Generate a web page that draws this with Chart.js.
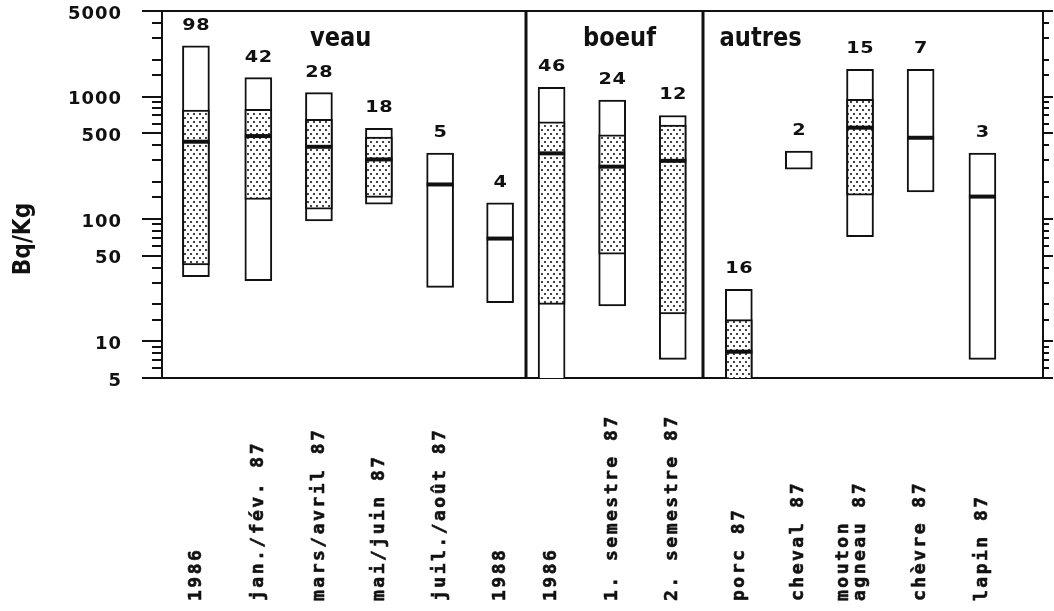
<!DOCTYPE html>
<html>
<head>
<meta charset="utf-8">
<script src="https://cdn.jsdelivr.net/npm/chart.js@4.4.1/dist/chart.umd.min.js"></script>
<style>
  html, body { margin: 0; padding: 0; background: #fff; }
  #wrap { width: 1054px; height: 611px; }
</style>
</head>
<body>
<div id="wrap"><canvas id="chart" width="1054" height="611"></canvas></div>
<script>
/*************************************************
 * DATA (Bq/Kg)
 *************************************************/
const categories = [
  "1986", "jan./fév. 87", "mars/avril 87", "mai/juin 87", "juil./août 87", "1988",
  "1986", "1. semestre 87", "2. semestre 87",
  "porc 87", "cheval 87", ["mouton", "agneau 87"], "chèvre 87", "lapin 87"
];
const counts  = [98, 42, 28, 18, 5, 4, 46, 24, 12, 16, 2, 15, 7, 3];
const xPos    = [0.56, 1.59, 2.59, 3.58, 4.59, 5.58, 6.43, 7.43, 8.43, 9.52, 10.51, 11.52, 12.52, 13.54];
const maxVals = [2600, 1425, 1075, 550, 345, 135, 1190, 935, 700, 26.5, 358, 1670, 1670, 345];
const q3Vals  = [775, 785, 650, 465, null, null, 620, 485, 585, 15, null, 950, null, null];
const medVals = [427, 475, 388, 306, 191, 69, 343, 267, 298, 8.2, null, 556, 460, 152];
const q1Vals  = [42, 144, 120, 150, null, null, 20, 51.5, 16.7, 4, null, 156, null, null];
const minVals = [33.6, 31.2, 96, 132, 27.5, 20.6, 4, 19.4, 7.1, 3, 255, 71.4, 166, 7.1];

const groups = [
  { label: "veau", x: 2.95 },
  { label: "boeuf", x: 7.55 },
  { label: "autres", x: 9.88 }
];
const separators = [6.01, 8.93];
const yLabels = [5, 10, 50, 100, 500, 1000, 5000];

const INK = "#111";

/*************************************************
 * STIPPLE PATTERN
 *************************************************/
function stipple() {
  const c = document.createElement("canvas");
  c.width = 6; c.height = 8;
  const g = c.getContext("2d");
  g.fillStyle = "#fff";
  g.fillRect(0, 0, 6, 8);
  g.fillStyle = "#444";
  g.fillRect(1, 1, 2, 2);
  g.fillRect(4, 5, 2, 2);
  return document.getElementById("chart").getContext("2d").createPattern(c, "repeat");
}

/*************************************************
 * HELPERS
 *************************************************/
function isLabelled(v) {
  return yLabels.some(l => Math.abs(l - v) / l < 1e-6);
}

function drawText(ctx, str, x, y, o) {
  ctx.save();
  ctx.translate(x, y);
  if (o.rot) ctx.rotate(o.rot);
  ctx.scale(o.sx || 1, 1);
  ctx.font = o.font;
  ctx.letterSpacing = (o.ls || 0) + "px";
  ctx.textAlign = o.align || "left";
  ctx.textBaseline = o.base || "alphabetic";
  ctx.fillStyle = INK;
  const dx = o.align === "center" ? (o.ls || 0) / 2 : 0;
  ctx.fillText(str, dx, 0);
  if (o.stroke) {
    ctx.strokeStyle = INK;
    ctx.lineWidth = o.stroke;
    ctx.strokeText(str, dx, 0);
  }
  ctx.restore();
}

/*************************************************
 * OVERLAY – frame, ticks, separators, texts
 *************************************************/
const overlay = {
  id: "overlay",
  beforeDraw(chart) {
    chart.ctx.letterSpacing = "1px";
  },
  afterDraw(chart) {
    const { ctx, chartArea: a, scales: { x, y } } = chart;
    ctx.save();
    ctx.letterSpacing = "0px";
    ctx.strokeStyle = INK;
    ctx.lineWidth = 2;

    // top + right frame
    ctx.beginPath();
    ctx.moveTo(a.left - 20, a.top);
    ctx.lineTo(a.right, a.top);
    ctx.lineTo(a.right, a.bottom);
    ctx.stroke();

    // tick marks both sides
    y.ticks.forEach(t => {
      const py = Math.round(y.getPixelForValue(t.value));
      const big = isLabelled(t.value);
      ctx.beginPath();
      ctx.moveTo(a.left - (big ? 20 : 10), py);
      ctx.lineTo(a.left, py);
      ctx.moveTo(a.right, py);
      ctx.lineTo(a.right + (big ? 10 : 6), py);
      ctx.stroke();
    });

    // group separators
    ctx.lineWidth = 3;
    separators.forEach(v => {
      const px = Math.round(x.getPixelForValue(v));
      ctx.beginPath();
      ctx.moveTo(px, a.top);
      ctx.lineTo(px, a.bottom);
      ctx.stroke();
    });

    // counts above boxes
    counts.forEach((n, i) => {
      drawText(ctx, String(n), x.getPixelForValue(xPos[i]), y.getPixelForValue(maxVals[i]) - 16,
        { font: "bold 16px 'DejaVu Sans'", sx: 1.2, ls: 0.5, align: "center" });
    });

    // group names
    groups.forEach(g => {
      drawText(ctx, g.label, x.getPixelForValue(g.x), a.top + 35,
        { font: "bold 26px 'DejaVu Sans'", sx: 0.87, ls: 0, align: "center" });
    });

    // category labels, rotated, starting at the bottom
    categories.forEach((c, i) => {
      const lines = Array.isArray(c) ? c : [c];
      const cx = x.getPixelForValue(xPos[i]);
      lines.forEach((ln, j) => {
        const off = (j - (lines.length - 1)) * 17;
        drawText(ctx, ln, cx + off, 601,
          { font: "bold 18px 'DejaVu Sans Mono'", ls: 2.5, rot: -Math.PI / 2, base: "middle", stroke: 0.6 });
      });
    });

    // y title
    drawText(ctx, "Bq/Kg", 23, 239,
      { font: "bold 25px 'DejaVu Sans'", sx: 0.87, rot: -Math.PI / 2, align: "center", base: "middle" });

    ctx.restore();
  }
};

/*************************************************
 * CHART
 *************************************************/
const dots = stipple();

const rangeData = xPos.map((p, i) => ({ x: p, y: [minVals[i], maxVals[i]] }));
const iqrData = xPos
  .map((p, i) => ({ x: p, y: [q1Vals[i], q3Vals[i]] }))
  .filter(d => d.y[0] != null);
const medData = xPos
  .map((p, i) => ({ x: p, y: medVals[i] }))
  .filter(d => d.y != null);

new Chart(document.getElementById("chart"), {
  type: "bar",
  data: {
    datasets: [
      {
        label: "étendue",
        data: rangeData,
        backgroundColor: "#fff",
        borderColor: INK,
        borderWidth: 2,
        borderSkipped: false,
        barThickness: 27,
        grouped: false,
        clip: 0,
        order: 3
      },
      {
        label: "quartiles",
        data: iqrData,
        backgroundColor: dots,
        borderColor: INK,
        borderWidth: 2,
        borderSkipped: false,
        barThickness: 27,
        grouped: false,
        clip: 0,
        order: 2
      },
      {
        type: "line",
        label: "médiane",
        data: medData,
        showLine: false,
        pointStyle: "line",
        pointRadius: 13.5,
        pointHoverRadius: 13.5,
        pointBorderWidth: 4,
        pointBorderColor: INK,
        clip: 0,
        order: 1
      }
    ]
  },
  options: {
    responsive: false,
    animation: false,
    events: [],
    layout: { autoPadding: false, padding: { top: 11, right: 11, left: 0, bottom: 0 } },
    plugins: {
      legend: { display: false },
      tooltip: { enabled: false }
    },
    scales: {
      x: {
        type: "linear",
        offset: false,
        min: 0,
        max: 14.54,
        grid: { display: false },
        ticks: { display: false },
        border: { display: true, color: INK, width: 2 },
        afterFit: s => {
          s.height = 233;
          s.paddingLeft = 0;
          s.paddingRight = 0;
        }
      },
      y: {
        type: "logarithmic",
        min: 5,
        max: 5000,
        grid: { display: false, drawTicks: true, tickLength: 20 },
        border: { display: true, color: INK, width: 2 },
        ticks: {
          autoSkip: false,
          padding: 20,
          labelOffset: 3,
          color: INK,
          font: { family: "'DejaVu Sans'", weight: "bold", size: 18 },
          callback: v => (isLabelled(v) ? String(v) : "")
        },
        afterFit: s => {
          s.width = 162;
          s.paddingTop = 0;
          s.paddingBottom = 0;
        }
      }
    }
  },
  plugins: [overlay]
});
</script>
</body>
</html>
